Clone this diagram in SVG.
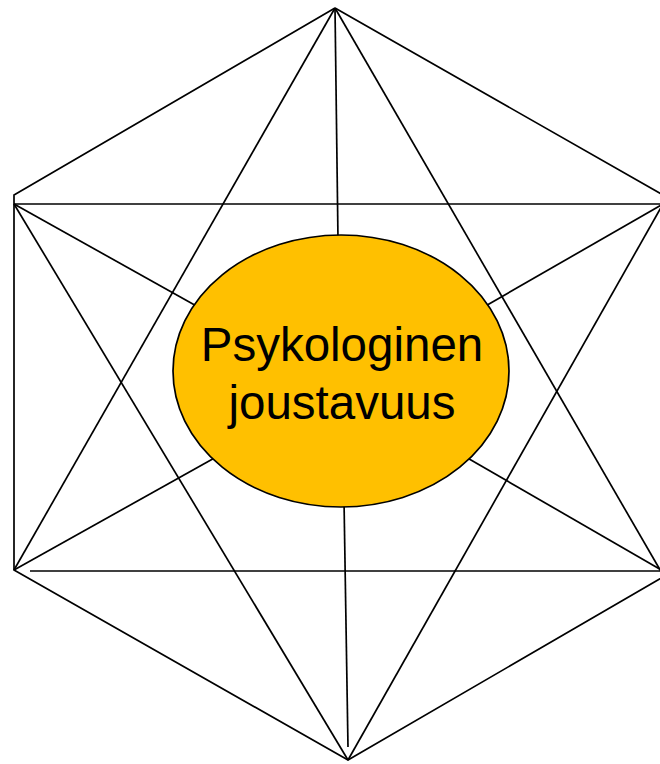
<svg xmlns="http://www.w3.org/2000/svg" width="660" height="764" viewBox="0 0 660 764">
<style>
.ln{stroke:#000;stroke-width:1.7;fill:none;stroke-linejoin:miter}
.lbl{font-family:"Liberation Sans",Arial,sans-serif;font-size:47.5px;fill:#000;text-anchor:middle}
</style>
<rect width="660" height="764" fill="#fff"/>
<g id="connectors" class="ln">
<polyline points="335,8 14,195 14,570 348,760 663,577 663,195 335,8"/>
<line x1="14" y1="204" x2="663" y2="204"/>
<line x1="30" y1="571" x2="663" y2="571"/>
<line x1="335" y1="8" x2="14" y2="570"/>
<line x1="335" y1="8" x2="663" y2="575"/>
<line x1="14" y1="204" x2="348" y2="760"/>
<line x1="663" y1="204" x2="348" y2="760"/>
<line x1="335" y1="8" x2="338" y2="240"/>
<line x1="348" y1="747" x2="344" y2="500"/>
<line x1="14" y1="204" x2="200" y2="308"/>
<line x1="663" y1="204" x2="482" y2="308"/>
<line x1="14" y1="570" x2="218" y2="456"/>
<line x1="663" y1="571" x2="464" y2="456"/>
</g>
<g id="center">
<ellipse cx="341" cy="371" rx="168" ry="136" fill="#FFC000" stroke="#000" stroke-width="1.7"/>
<text class="lbl" x="342" y="361">Psykologinen</text>
<text class="lbl" x="342" y="419">joustavuus</text>
</g>
</svg>
